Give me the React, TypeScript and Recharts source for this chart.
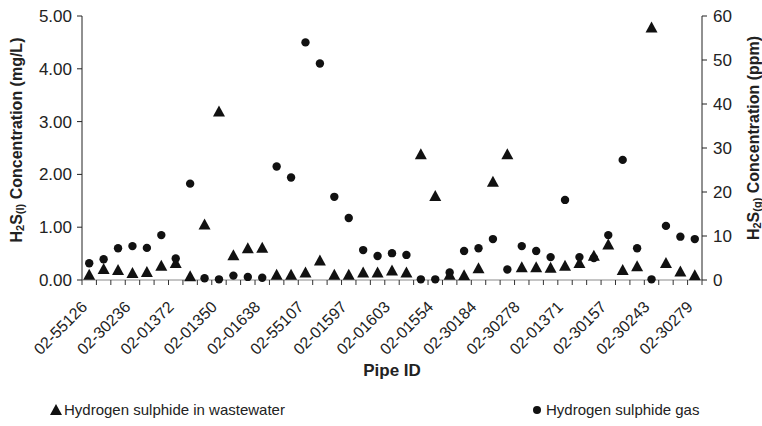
import React from 'react';
import { ScatterChart, Scatter, XAxis, YAxis } from 'recharts';

// Pipe IDs in plot order (only every third one is printed on the axis)
const pipeIds: (string | null)[] = [
  '02-55126', null, null, '02-30236', null, null, '02-01372', null, null,
  '02-01350', null, null, '02-01638', null, null, '02-55107', null, null,
  '02-01597', null, null, '02-01603', null, null, '02-01554', null, null,
  '02-30184', null, null, '02-30278', null, null, '02-01371', null, null,
  '02-30157', null, null, '02-30243', null, null, '02-30279',
];

// H2S in wastewater, mg/L (left axis)
const liquidMgL = [
  0.11, 0.22, 0.2, 0.14, 0.16, 0.28, 0.33, 0.08, 1.06, 3.2, 0.48, 0.61, 0.62,
  0.11, 0.11, 0.15, 0.38, 0.11, 0.11, 0.15, 0.15, 0.19, 0.15, 2.39, 1.6, 0.11,
  0.1, 0.23, 1.87, 2.39, 0.25, 0.25, 0.24, 0.28, 0.33, 0.47, 0.68, 0.2, 0.27,
  4.79, 0.33, 0.17, 0.1,
];

// H2S gas, ppm (right axis)
const gasPpm = [
  3.8, 4.7, 7.2, 7.7, 7.3, 10.2, 4.9, 21.9, 0.4, 0.15, 1.0, 0.7, 0.5, 25.8,
  23.3, 54.0, 49.2, 18.9, 14.1, 6.8, 5.45, 6.1, 5.7, 0.15, 0.15, 1.7, 6.6, 7.2,
  9.3, 2.4, 7.7, 6.6, 5.2, 18.2, 5.2, 5.0, 10.2, 27.3, 7.2, 0.15, 12.3, 9.85,
  9.3,
];

const leftTicks = [0, 1, 2, 3, 4, 5];
const rightTicks = [0, 10, 20, 30, 40, 50, 60];

const liquidData = liquidMgL.map((v, i) => ({ x: i, y: v }));
const gasData = gasPpm.map((v, i) => ({ x: i, y: v }));
// tick marks sit between categories, labels on the category centres
const xTicks = Array.from({ length: pipeIds.length * 2 + 1 }, (_, i) => i / 2 - 0.5);

const FONT = '"Liberation Sans", Arial, sans-serif';
const INK = '#111';

const Triangle = (p: any) => {
  const { cx, cy } = p;
  return <path d={`M${cx},${cy - 5.5} L${cx + 6},${cy + 5.5} L${cx - 6},${cy + 5.5} Z`} fill={INK} />;
};

const Dot = (p: any) => <circle cx={p.cx} cy={p.cy} r={4.2} fill={INK} />;

const PipeTick = (props: any) => {
  const { x, y, payload } = props;
  const v = payload.value;
  if (!Number.isInteger(v)) {
    return <line x1={x} y1={y} x2={x} y2={y + 5} stroke="#333" />;
  }
  const id = pipeIds[v];
  if (!id) return <g />;
  const ax = x - 1;
  const ay = y + 28;
  return (
    <text x={ax} y={ay} transform={`rotate(-45 ${ax} ${ay})`} textAnchor="end" fontSize={16} fontFamily={FONT} fill="#222">
      {id}
    </text>
  );
};

const AxisTitle = ({ cx, cy, sub, unit }: { cx: number; cy: number; sub: string; unit: string }) => (
  <text
    x={cx}
    y={cy}
    transform={`rotate(-90 ${cx} ${cy})`}
    textAnchor="middle"
    dominantBaseline="central"
    fontSize={16}
    fontWeight="bold"
    fontFamily={FONT}
    fill="#222"
  >
    H<tspan fontSize={11} dy={4}>2</tspan>
    <tspan dy={-4}>S</tspan>
    <tspan fontSize={11} dy={4}>{sub}</tspan>
    <tspan dy={-4}>{` Concentration ${unit}`}</tspan>
  </text>
);

const LeftTitle = (props: any) => {
  const vb = props.viewBox;
  return <AxisTitle cx={vb.x + 16} cy={vb.y + vb.height / 2 - 8} sub="(l)" unit="(mg/L)" />;
};

const RightTitle = (props: any) => {
  const vb = props.viewBox;
  return <AxisTitle cx={vb.x + 51} cy={vb.y + vb.height / 2 - 10} sub="(g)" unit="(ppm)" />;
};

const XTitle = (props: any) => {
  const vb = props.viewBox;
  return (
    <text x={vb.x + vb.width / 2} y={vb.y + 96} textAnchor="middle" fontSize={17} fontWeight="bold" fontFamily={FONT} fill="#222">
      Pipe ID
    </text>
  );
};

const legendText: React.CSSProperties = {
  fontFamily: FONT,
  fontSize: 15,
  color: '#222',
};

export default function App() {
  return (
    <div style={{ position: 'absolute', left: 0, top: 0, width: 762, height: 426, background: '#fff' }}>
      <ScatterChart width={762} height={426} margin={{ top: 16, right: 0, bottom: 0, left: 0 }}>
        <XAxis
          type="number"
          dataKey="x"
          domain={[-0.5, pipeIds.length - 0.5]}
          ticks={xTicks}
          interval={0}
          tick={<PipeTick />}
          tickLine={false}
          tickSize={0}
          tickMargin={0}
          height={146}
          axisLine={{ stroke: '#8a8a8a' }}
          label={<XTitle />}
        />
        <YAxis
          yAxisId="l"
          type="number"
          dataKey="y"
          domain={[0, 5]}
          ticks={leftTicks}
          tickFormatter={(v: number) => v.toFixed(2)}
          width={82}
          tickSize={5}
          tickMargin={5}
          axisLine={{ stroke: '#222' }}
          tickLine={{ stroke: '#222' }}
          tick={{ fontSize: 17, fill: '#222', fontFamily: FONT }}
          label={<LeftTitle />}
        />
        <YAxis
          yAxisId="r"
          orientation="right"
          type="number"
          dataKey="y"
          domain={[0, 60]}
          ticks={rightTicks}
          width={60}
          tickSize={5}
          tickMargin={6}
          axisLine={{ stroke: '#222' }}
          tickLine={{ stroke: '#222' }}
          tick={{ fontSize: 17, fill: '#222', fontFamily: FONT }}
          label={<RightTitle />}
        />
        <Scatter data={gasData} yAxisId="r" shape={<Dot />} isAnimationActive={false} />
        <Scatter data={liquidData} yAxisId="l" shape={<Triangle />} isAnimationActive={false} />
      </ScatterChart>

      <div style={{ position: 'absolute', left: 50, top: 401, display: 'flex', alignItems: 'center' }}>
        <svg width={12} height={11} style={{ marginRight: 2 }}>
          <path d="M6,0 L12,11 L0,11 Z" fill={INK} />
        </svg>
        <span style={legendText}>Hydrogen sulphide in wastewater</span>
      </div>
      <div style={{ position: 'absolute', left: 532, top: 401, display: 'flex', alignItems: 'center' }}>
        <svg width={10} height={10} style={{ marginRight: 4 }}>
          <circle cx={5} cy={5} r={4} fill={INK} />
        </svg>
        <span style={legendText}>Hydrogen sulphide gas</span>
      </div>
    </div>
  );
}
